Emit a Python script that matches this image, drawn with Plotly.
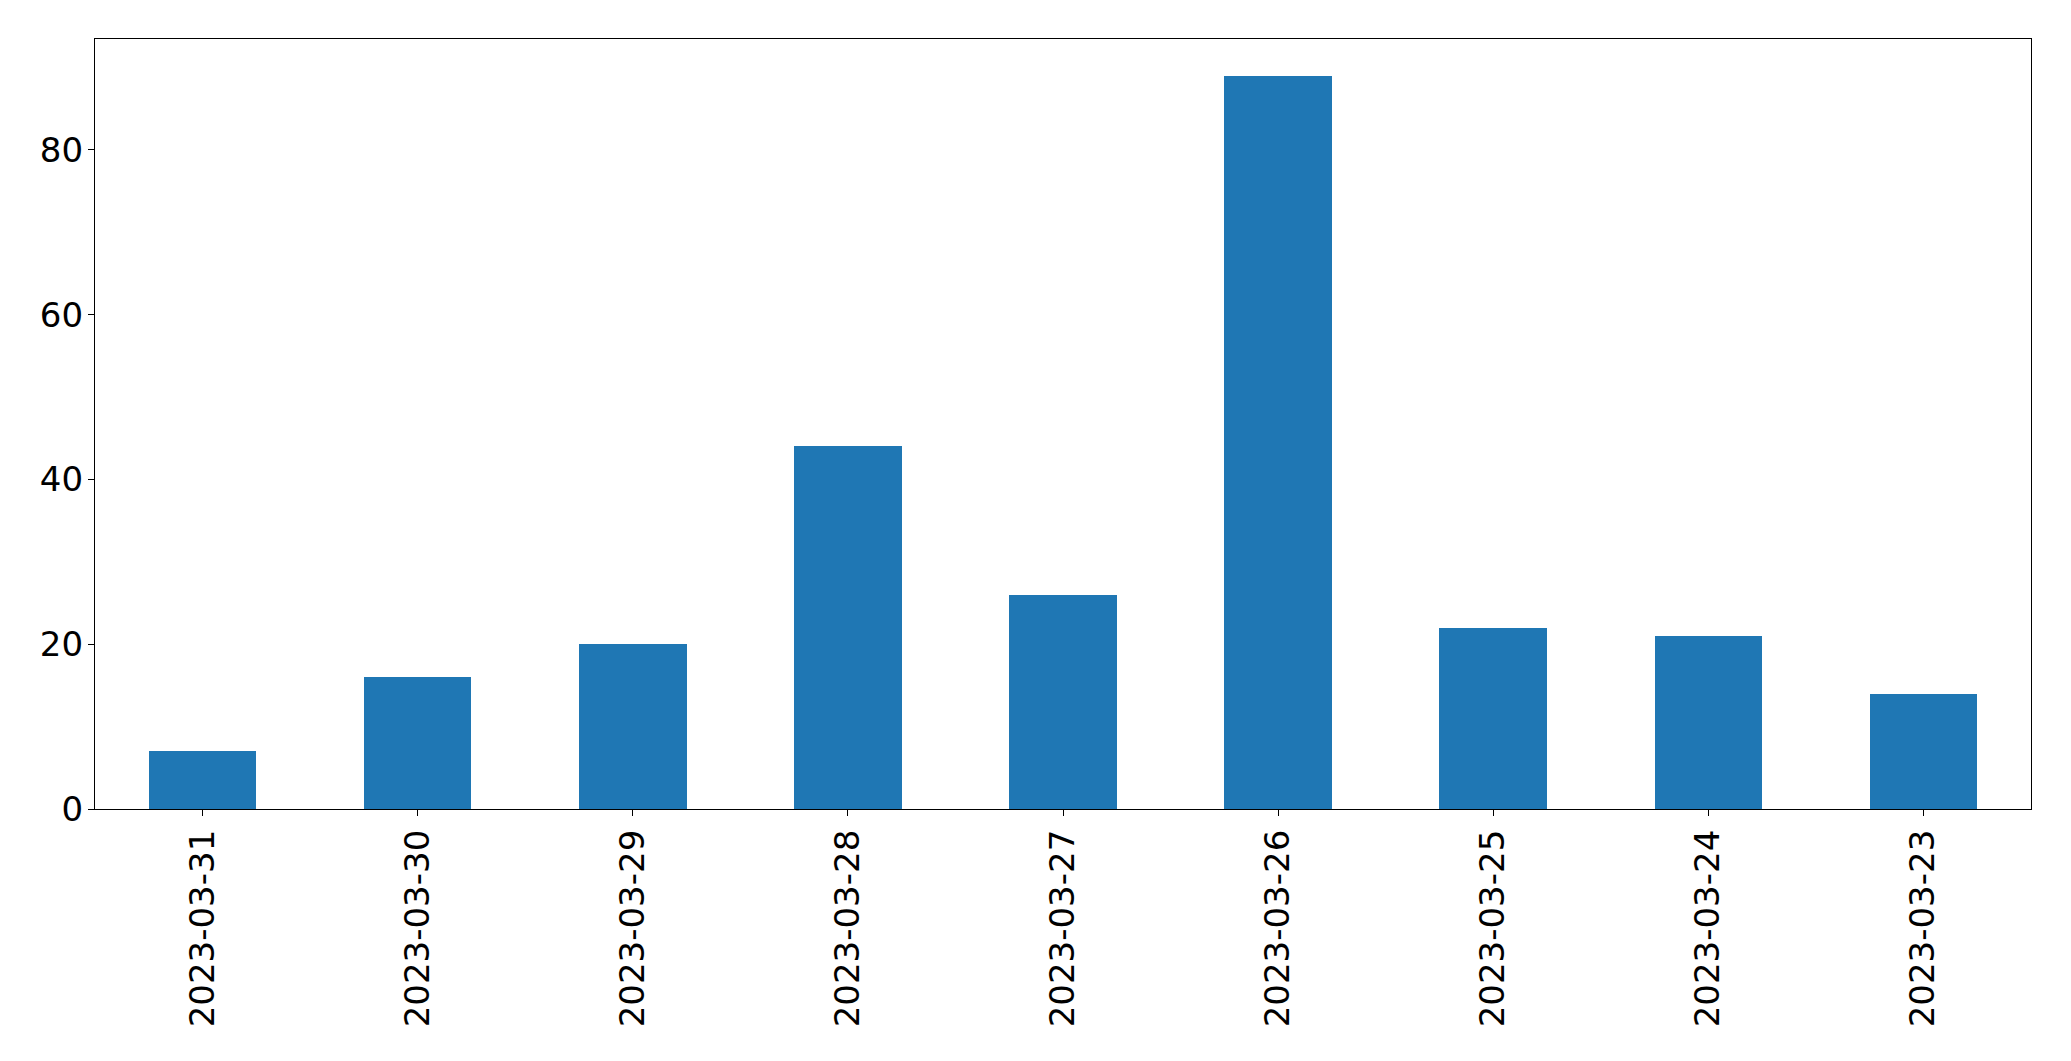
import plotly.graph_objects as go

# dados
datas = ['2023-03-31', '2023-03-30', '2023-03-29', '2023-03-28', '2023-03-27',
         '2023-03-26', '2023-03-25', '2023-03-24', '2023-03-23']
contagens = [7, 16, 20, 44, 26, 89, 22, 21, 14]

fig = go.Figure(go.Bar(x=list(range(len(datas))), y=contagens,
                       width=0.5, marker_color='#1f77b4', marker_line_width=0))

eixo = dict(showline=True, linecolor='black', linewidth=1.3, mirror=True,
            ticks='outside', ticklen=6, tickwidth=1.3, tickcolor='black',
            showgrid=False, zeroline=False,
            tickfont=dict(family='DejaVu Sans', size=34, color='black'))

fig.update_layout(
    width=2071, height=1061,
    margin=dict(l=95, r=40, t=39, b=252),
    plot_bgcolor='white', paper_bgcolor='white',
    showlegend=False,
    bargap=0,
    xaxis=dict(eixo, range=[-0.5, len(datas) - 0.5], tickmode='array',
               tickvals=list(range(len(datas))), ticktext=datas, tickangle=-90,
               ticklabelstandoff=0),
    yaxis=dict(eixo, range=[0, max(contagens) * 1.05], tickvals=[0, 20, 40, 60, 80],
               ticklabelstandoff=-2),
)

fig.write_html("out.html", config={'displayModeBar': False},
               post_script="document.body.style.margin='0';")
